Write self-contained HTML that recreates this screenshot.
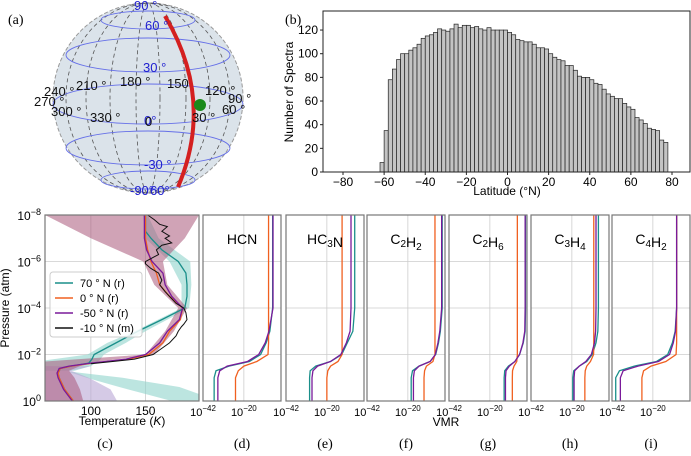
<!DOCTYPE html>
<html><head><meta charset="utf-8"><style>
body{margin:0;background:#fff}
svg{display:block;font-family:"Liberation Sans",sans-serif}
.serif{font-family:"Liberation Serif",serif}
</style></head><body>
<svg id="fig" width="691" height="456" viewBox="0 0 691 456">
<g id="globe">
<text x="8" y="24" class="serif" font-size="14">(a)</text>
<circle cx="148" cy="98" r="95" fill="#dbe3ea" stroke="#999" stroke-width="1" stroke-dasharray="4,2"/>
<g fill="none" stroke="#555" stroke-width="0.8" stroke-dasharray="4,3">
<ellipse cx="148" cy="98" rx="12" ry="95"/><ellipse cx="148" cy="98" rx="38" ry="95"/><ellipse cx="148" cy="98" rx="62" ry="95"/><ellipse cx="148" cy="98" rx="82" ry="95"/>
</g>
<g fill="none" stroke="#6670e8" stroke-width="0.9">
<ellipse cx="148" cy="20" rx="47" ry="9"/><ellipse cx="148" cy="55" rx="82" ry="17"/><ellipse cx="148" cy="104" rx="95" ry="20"/><ellipse cx="148" cy="148" rx="82" ry="17"/><ellipse cx="148" cy="180" rx="47" ry="9"/>
</g>
<path d="M165,16 Q215,100 178,187" fill="none" stroke="#d42020" stroke-width="4"/>
<circle cx="200" cy="105" r="6" fill="#1a8a1a"/>
<g fill="#2020d0" font-size="13">
<text x="134" y="10">90 °</text><text x="145" y="30">60 °</text><text x="143" y="72">30 °</text><text x="144" y="169">-30 °</text><text x="130" y="195">-90°</text><text x="150" y="195">60°</text><text x="144" y="125">0°</text>
</g>
<g fill="#111" font-size="13">
<text x="76" y="90">210 °</text><text x="120" y="86">180 °</text><text x="167" y="88">150</text><text x="205" y="95">120 °</text><text x="228" y="103">90 °</text><text x="222" y="114">60 °</text><text x="192" y="122">30 °</text><text x="145" y="126">0</text><text x="90" y="122">330 °</text><text x="51" y="116">300 °</text><text x="34" y="106">270 °</text><text x="44" y="96">240 °</text>
</g>
</g>
<text x="285" y="24" class="serif" font-size="14">(b)</text>
<g id="hist"></g>
<g id="temp"></g>
<g id="vmr"></g>
</svg>
<script>
const NS="http://www.w3.org/2000/svg";
function mk(p,tag,at,txt){const e=document.createElementNS(NS,tag);for(const k in at)e.setAttribute(k,at[k]);if(txt!=null)e.textContent=txt;p.appendChild(e);return e;}

// ---------- Histogram data ----------
const histBinStarts=[-62,-60,-58,-56,-54,-52,-50,-48,-46,-44,-42,-40,-38,-36,-34,-32,-30,-28,-26,-24,-22,-20,-18,-16,-14,-12,-10,-8,-6,-4,-2,0,2,4,6,8,10,12,14,16,18,20,22,24,26,28,30,32,34,36,38,40,42,44,46,48,50,52,54,56,58,60,62,64,66,68,70,72,74,76];
const histCounts=[8,35,78,87,95,100,100,103,105,108,113,115,116,118,121,120,119,121,125,122,124,124,122,123,121,120,122,120,120,120,120,118,116,112,111,110,110,108,105,105,104,100,97,95,94,90,90,86,81,80,80,78,75,74,70,66,64,62,62,58,55,53,46,44,41,37,36,35,27,25];
const histXTicks=[-80,-60,-40,-20,0,20,40,60,80];
const histYTicks=[0,20,40,60,80,100,120];
(function(){
 const g=document.getElementById('hist');
 const L=323,R=690,T=11,B=172;
 const xs=v=>343+(v+80)/160*(672-343), ys=v=>B-v*1.183;
 histBinStarts.forEach((s,i)=>{
  const r=mk(g,'rect',{x:xs(s),y:ys(histCounts[i]),width:xs(s+2)-xs(s),height:B-ys(histCounts[i]),fill:'#c4c4c4',stroke:'#222','stroke-width':0.7});
  
  
 });
 const f=mk(g,'rect',{x:L,y:T,width:R-L,height:B-T,fill:'none',stroke:'#222','stroke-width':1});
 
 histXTicks.forEach(v=>{mk(g,'line',{x1:xs(v),x2:xs(v),y1:B,y2:B+3,stroke:'#222'});
  const t=mk(g,'text',{x:xs(v),y:B+14,'font-size':12,'text-anchor':'middle'},(v<0?'\u2212'+(-v):v));
  });
 histYTicks.forEach(v=>{mk(g,'line',{x1:L-3,x2:L,y1:ys(v),y2:ys(v),stroke:'#222'});
  const t=mk(g,'text',{x:L-5,y:ys(v)+4,'font-size':12,'text-anchor':'end'},v);
  });
 const xl=mk(g,'text',{x:507,y:195,'font-size':12,'text-anchor':'middle'},'Latitude (°N)');
 
 const yl=mk(g,'text',{x:0,y:0,'font-size':12,'text-anchor':'middle',transform:'translate(293,92) rotate(-90)'},'Number of Spectra');
 
})();

// ---------- Temperature panel data ----------
const tLogP=[-8,-7.3,-7,-6.5,-6,-5.5,-5,-4.5,-4,-3.5,-3,-2.5,-2,-1.8,-1.63,-1.5,-1.4,-1.2,-1,-0.5,0];
const temp70N=[150,150,155,165,180,187,188,188,186,165,143,123,103,101,98,82,72,70,71,76,84];
const temp0N=[150,150,150,152,155,160,163,172,184,182,172,166,153,135,102,82,72,70,71,76,84];
const tempM50N=[149,149,149,151,156,166,168,174,184,181,170,163,150,132,100,80,71,69,70,75,83];
const measLogP=[-8,-7.8,-7.6,-7.5,-7.3,-7.1,-7,-6.8,-6.7,-6.5,-6.3,-6.2,-6,-5.9,-5.7,-5.5,-5.2,-5,-4.7,-4.5,-4.2,-4,-3.8,-3.5,-3.3,-3.2,-3,-2.8,-2.5,-2.2,-2,-1.8,-1.7,-1.6];
const tempM10N=[152,158,163,170,165,172,168,174,165,160,162,158,150,150,155,162,165,163,168,172,178,185,187,188,185,183,180,178,172,163,157,140,120,100];
const pinkLogP=[-8,-7,-6,-5,-4,-3,-2,-1.7,-1.5,-1.3,-1,-0.5,0];
const pinkLo=[58,100,148,158,180,168,150,58,58,58,58,58,58];
const pinkHi=[199,186,166,170,188,176,158,108,90,80,85,90,93];
const lavLogP=[-1.5,-1.3,-1,-0.5,0];
const lavLo=[58,58,58,58,58];
const lavHi=[100,82,98,118,124];
const tealALogP=[-8,-7,-6,-5,-4,-3,-2.5,-2,-1.75,-1.5,-1.3];
const tealALo=[148,150,172,183,183,140,115,97,58,58,58];
const tealAHi=[152,162,191,192,190,150,132,112,108,100,85];
const tealBLogP=[-1.25,-1,-0.6,-0.3,0];
const tealBLo=[80,96,126,150,174];
const tealBHi=[84,129,181,199,199];
const tempTicks=[100,150];
const pTicks=[-8,-6,-4,-2,0];
(function(){
 const g=document.getElementById('temp');
 const L=45,R=199,T=215,B=401;
 const xs=t=>L+(t-58)/(199-58)*(R-L), ys=p=>T+(p+8)/8*(B-T);
 mk(g,'text',{x:105,y:448,'font-size':14,'text-anchor':'middle',class:'serif'},'(c)');
 function band(ps,lo,hi,col,op,name){let d='M';ps.forEach((p,i)=>d+=xs(lo[i])+','+ys(p)+' L');
  for(let i=ps.length-1;i>=0;i--)d+=xs(hi[i])+','+ys(ps[i])+(i?' L':'');
  const e=mk(g,'path',{d:d+'Z',fill:col,'fill-opacity':op});}
 tempTicks.forEach(t=>mk(g,'line',{x1:xs(t),x2:xs(t),y1:T,y2:B,stroke:'#ccc','stroke-width':0.8}));
 pTicks.forEach(p=>mk(g,'line',{x1:L,x2:R,y1:ys(p),y2:ys(p),stroke:'#ccc','stroke-width':0.8}));
 band(tealALogP,tealALo,tealAHi,'#8fd3cc',0.6,'uncertainty-70n-upper');
 band(tealBLogP,tealBLo,tealBHi,'#8fd3cc',0.6,'uncertainty-70n-lower');
 band(lavLogP,lavLo,lavHi,'#b9a7d6',0.6,'uncertainty-minus50n');
 band(pinkLogP,pinkLo,pinkHi,'#a9587a',0.55,'uncertainty-0n');
 function line(ps,ts,col,w,name){let d='';ps.forEach((p,i)=>d+=(i?'L':'M')+xs(ts[i])+','+ys(p));
  const e=mk(g,'path',{d,fill:'none',stroke:col,'stroke-width':w});}
 line(tLogP,temp70N,'#1a8f8a',1.3,'line-70n');
 line(tLogP,temp0N,'#f06020',1.3,'line-0n');
 line(tLogP,tempM50N,'#7a1a9a',1.3,'line-minus50n');
 line(measLogP,tempM10N,'#111',1,'line-minus10n-measured');
 const f=mk(g,'rect',{x:L,y:T,width:R-L,height:B-T,fill:'none',stroke:'#777','stroke-width':1.2});
 
 tempTicks.forEach(t=>{const e=mk(g,'text',{x:xs(t),y:B+14,'font-size':12,'text-anchor':'middle'},t);});
 pTicks.forEach(p=>{const e=mk(g,'text',{x:L-4,y:ys(p)+5,'font-size':12,'text-anchor':'end'});
  mk(e,'tspan',{},'10');mk(e,'tspan',{dy:-5,'font-size':9},p==0?'0':'\u2212'+(-p));
  });
 const xl=mk(g,'text',{x:122,y:425,'font-size':12,'text-anchor':'middle'});mk(xl,'tspan',{},'Temperature (');mk(xl,'tspan',{'font-style':'italic'},'K');mk(xl,'tspan',{},')');
 
 const yl=mk(g,'text',{x:0,y:0,'font-size':12,'text-anchor':'middle',transform:'translate(9,308) rotate(-90)'},'Pressure (atm)');
 
 const lg=mk(g,'g',{});
 mk(lg,'rect',{x:50,y:272,width:92,height:65,rx:3,fill:'#fff','fill-opacity':0.85,stroke:'#ccc'});
 [['70 ° N (r)','#1a8f8a'],['0 ° N (r)','#f06020'],['-50 ° N (r)','#7a1a9a'],['-10 ° N (m)','#111']].forEach((e,i)=>{
  const y=283+i*15;mk(lg,'line',{x1:55,x2:73,y1:y,y2:y,stroke:e[1],'stroke-width':1.5});
  const t=mk(lg,'text',{x:80,y:y+4,'font-size':11},e[0]);});
})();

// ---------- VMR panels data ----------
const vmrLogP=[-8,-4,-3,-2.5,-2,-1.7,-1.5,-1.3,-1,0];
const species=['HCN','HC3N','C2H2','C2H6','C3H4','C4H2'];
const vmrTeal=[[-4.5,-4.5,-6,-8,-11,-17,-28,-35,-36,-36],[-5,-5,-6,-9,-12,-18,-26,-29,-29.3,-29.3],[-1.5,-1.5,-2.5,-3.5,-5,-8,-14,-17.5,-18.2,-18.2],[-0.8,-0.8,-1,-2,-4,-6.5,-10,-12,-12.3,-12.3],[-5.7,-5.7,-6,-7,-9,-12,-16,-19,-19.5,-19.5],[-7.2,-7.2,-8,-9.5,-12,-18,-30,-38,-40,-40]];
const vmrPurple=[[-4.3,-4.3,-6.5,-8.5,-12,-18,-29,-33,-34,-34],[-7,-7,-7.5,-9.5,-12.5,-18,-25,-27.5,-28,-28],[-1.8,-1.8,-2.8,-3.8,-5.2,-8,-14,-16.5,-17,-17],[-1,-1,-1.2,-2.2,-4,-6.5,-9.5,-11.3,-11.6,-11.6],[-7,-7,-7.2,-7.8,-9.5,-12.5,-16,-18.5,-18.8,-18.8],[-7.2,-7.2,-7.8,-9,-11,-17,-28,-36,-37.5,-37.5]];
const vmrOrange=[[-6.7,-6.7,-6.7,-6.7,-7,-13,-20,-23,-24.5,-24.5],[-11.8,-11.8,-11.8,-11.8,-11.8,-14,-18,-19.5,-20,-20],[-5.4,-5.4,-5.4,-5.4,-5.4,-6.5,-10,-11,-11.3,-11.3],[-5.2,-5.2,-5.2,-5.2,-5.2,-5.5,-7,-7.8,-7.9,-7.9],[-8.2,-8.2,-8.2,-8.2,-8.3,-10,-12,-12.8,-13,-13],[-7.2,-7.2,-7.2,-7.2,-7.5,-13,-21,-25,-25.9,-25.9]];
const vmrTicks=[-42,-20];
const panelLetters=['(d)','(e)','(f)','(g)','(h)','(i)'];
(function(){
 const g=document.getElementById('vmr');
 const lefts=[203,286,367,449,531,612],W=78,T=215,B=401;
 const ys=p=>T+(p+8)/8*(B-T);
 species.forEach((sp,k)=>{
  const L=lefts[k],xs=v=>L+(v+42)/42*W;
  const pg=mk(g,'g',{});
  mk(pg,'line',{x1:xs(-20),x2:xs(-20),y1:T,y2:B,stroke:'#ccc','stroke-width':0.8});
  [-6,-4,-2].forEach(p=>mk(pg,'line',{x1:L,x2:L+W,y1:ys(p),y2:ys(p),stroke:'#ccc','stroke-width':0.8}));
  [[vmrTeal,'#1a8f8a','teal'],[vmrOrange,'#f06020','orange'],[vmrPurple,'#7a1a9a','purple']].forEach(s=>{
   let d='';vmrLogP.forEach((p,i)=>d+=(i?'L':'M')+xs(s[0][k][i])+','+ys(p));
   const e=mk(pg,'path',{d,fill:'none',stroke:s[1],'stroke-width':1.3});
   });
  mk(pg,'rect',{x:L,y:T,width:W,height:B-T,fill:'none',stroke:'#777','stroke-width':1.2});
  const tt=mk(pg,'text',{x:L+W/2,y:244,'font-size':14,'text-anchor':'middle'});
  sp.match(/[A-Z][a-z]?|\d/g).forEach(tok=>{if(/\d/.test(tok))mk(tt,'tspan',{dy:3,'font-size':10},tok),mk(tt,'tspan',{dy:-3},'');else mk(tt,'tspan',{},tok);});
  
  vmrTicks.forEach(v=>{const e=mk(pg,'text',{x:xs(v),y:B+15,'font-size':11,'text-anchor':'middle'});
   mk(e,'tspan',{},'10');mk(e,'tspan',{dy:-5,'font-size':8},'\u2212'+(-v));
   });
  const pl=mk(pg,'text',{x:L+W/2,y:448,'font-size':14,'text-anchor':'middle',class:'serif'},panelLetters[k]);
  
 });
 const vl=mk(g,'text',{x:446,y:426,'font-size':12,'text-anchor':'middle'},'VMR');
 
})();
</script>
</body></html>
